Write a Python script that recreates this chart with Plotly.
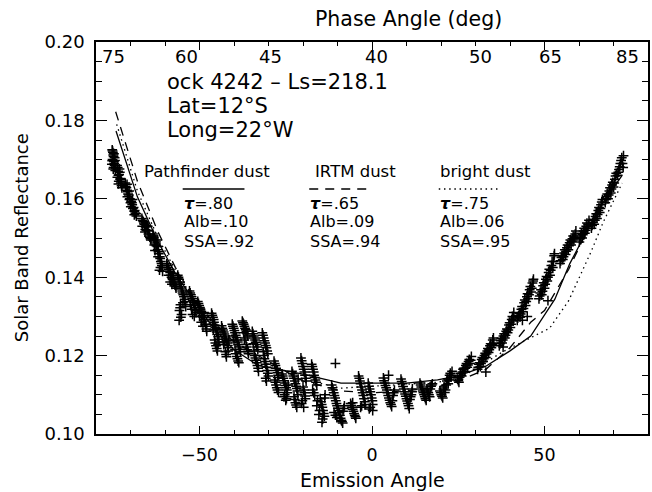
import plotly.graph_objects as go

# Observed solar-band reflectance vs emission angle (orbit 4242), grouped by limb
west_limb_x = [
    -75.3, -75.0, -75.2, -74.8, -75.4, -74.6, -74.9, -74.4, -75.1, -74.7,
    -75.2, -74.9, -75.3, -74.6, -75.0, -74.5, -74.8,
    -73.9, -73.6, -73.3, -73.8, -73.0, -72.8, -73.4, -72.6, -73.2,
    -73.7, -73.5, -73.1, -72.9, -72.7, -73.5, -72.5,
    -71.5, -71.2, -70.8, -70.5, -70.2, -69.8, -69.5, -69.1, -68.8, -68.4, -70.9, -69.9, -71.0, -68.9,
    -71.4, -71.0, -70.7, -70.3, -70.0, -69.6, -69.3, -68.9, -68.6, -70.4, -69.4, -68.3,
    -66.7, -66.3, -66.0, -65.6, -65.2, -64.8, -64.4, -64.1, -65.8, -65.0,
    -66.5, -66.1, -65.7, -65.4, -64.9, -64.6, -64.2, -66.6,
    -63.5, -63.2, -62.8, -62.5, -62.1, -61.8, -61.4, -61.0, -60.8, -62.9, -61.6, -62.3,
    -63.3, -63.0, -62.6, -62.2, -61.9, -61.5, -61.2, -60.9, -63.1, -62.0, -61.3, -60.7,
    -59.5, -59.1, -58.7, -58.3, -57.9, -57.5, -57.1, -56.8, -58.5, -57.6,
    -59.3, -58.9, -58.5, -58.1, -57.7, -57.3, -56.9, -59.0, -58.0,
    -56.3, -55.9, -55.6, -55.2, -54.9, -54.5, -54.2, -55.5, -55.8, -55.4, -54.0,
    -56.1, -55.7, -55.3, -55.0, -54.7, -54.3, -55.6, -55.2, -54.8, -55.9,
    -52.9, -52.5, -52.1, -51.7, -51.3, -51.0, -52.3, -51.5,
    -52.7, -52.3, -51.9, -51.5, -51.2, -52.0, -52.6,
    -50.5, -50.1, -49.7, -49.3, -48.9, -48.5, -48.1, -47.9, -49.5, -48.7,
    -50.3, -49.9, -49.5, -49.1, -48.7, -48.3, -48.0, -50.0, -49.0,
    -46.5, -46.1, -45.8, -45.4, -45.0, -44.6, -44.4, -45.6, -45.2, -44.8, -46.0,
    -46.3, -45.9, -45.6, -45.2, -44.8, -44.5, -45.4, -45.0, -46.2, -44.6,
    -43.6, -43.2, -42.8, -42.4, -42.0, -41.6, -43.0, -42.5, -42.2, -41.5,
    -43.4, -43.0, -42.6, -42.2, -41.8, -42.8, -42.3, -41.7,
    -40.5, -40.1, -39.7, -39.3, -38.9, -38.5, -38.1, -39.5, -39.0, -38.6, -40.0,
    -40.3, -39.9, -39.5, -39.1, -38.7, -38.3, -39.7, -39.2, -38.8, -40.2,
    -37.6, -37.2, -36.8, -36.4, -36.0, -37.0, -36.5, -36.1, -35.8,
    -37.4, -37.0, -36.6, -36.2, -36.8, -36.3, -35.9, -37.2,
    -34.7, -34.3, -33.9, -33.5, -33.1, -34.0, -33.6, -33.2, -32.9, -34.2,
    -34.5, -34.1, -33.7, -33.3, -33.8, -33.4, -33.0, -34.4,
]
west_limb_y = [
    0.1725, 0.1712, 0.1700, 0.1695, 0.1688, 0.1705, 0.1680, 0.1672, 0.1718, 0.1690,
    0.1722, 0.1708, 0.1697, 0.1685, 0.1676, 0.1698, 0.1715,
    0.1685, 0.1670, 0.1662, 0.1655, 0.1650, 0.1640, 0.1645, 0.1633, 0.1676,
    0.1680, 0.1660, 0.1668, 0.1652, 0.1645, 0.1638, 0.1628,
    0.1640, 0.1628, 0.1618, 0.1610, 0.1600, 0.1594, 0.1585, 0.1578, 0.1570, 0.1562, 0.1605, 0.1580, 0.1637, 0.1559,
    0.1632, 0.1622, 0.1612, 0.1598, 0.1590, 0.1590, 0.1575, 0.1568, 0.1564, 0.1620, 0.1598, 0.1556,
    0.1550, 0.1542, 0.1535, 0.1528, 0.1520, 0.1510, 0.1502, 0.1495, 0.1515, 0.1530,
    0.1545, 0.1538, 0.1522, 0.1532, 0.1518, 0.1505, 0.1498, 0.1530,
    0.1510, 0.1500, 0.1490, 0.1480, 0.1470, 0.1460, 0.1448, 0.1435, 0.1425, 0.1468, 0.1418, 0.1495,
    0.1505, 0.1495, 0.1485, 0.1478, 0.1465, 0.1452, 0.1440, 0.1430, 0.1482, 0.1452, 0.1425, 0.1415,
    0.1434, 0.1425, 0.1415, 0.1405, 0.1398, 0.1390, 0.1380, 0.1372, 0.1388, 0.1410,
    0.1430, 0.1420, 0.1412, 0.1400, 0.1395, 0.1385, 0.1376, 0.1405, 0.1382,
    0.1405, 0.1395, 0.1382, 0.1370, 0.1360, 0.1350, 0.1338, 0.1330, 0.1315, 0.1298, 0.1325,
    0.1400, 0.1388, 0.1375, 0.1365, 0.1355, 0.1344, 0.1322, 0.1305, 0.1335, 0.1290,
    0.1365, 0.1355, 0.1345, 0.1335, 0.1322, 0.1310, 0.1318, 0.1300,
    0.1360, 0.1350, 0.1340, 0.1328, 0.1315, 0.1305, 0.1330,
    0.1338, 0.1328, 0.1318, 0.1308, 0.1298, 0.1288, 0.1275, 0.1262, 0.1285, 0.1310,
    0.1333, 0.1323, 0.1313, 0.1303, 0.1293, 0.1280, 0.1268, 0.1300, 0.1275,
    0.1308, 0.1298, 0.1285, 0.1272, 0.1260, 0.1248, 0.1235, 0.1240, 0.1225, 0.1212, 0.1265,
    0.1303, 0.1292, 0.1278, 0.1266, 0.1254, 0.1242, 0.1232, 0.1218, 0.1280, 0.1228,
    0.1276, 0.1265, 0.1255, 0.1245, 0.1232, 0.1220, 0.1228, 0.1210, 0.1197, 0.1240,
    0.1270, 0.1260, 0.1250, 0.1238, 0.1226, 0.1235, 0.1203, 0.1212,
    0.1280, 0.1270, 0.1258, 0.1246, 0.1235, 0.1222, 0.1210, 0.1205, 0.1192, 0.1182, 0.1238,
    0.1275, 0.1264, 0.1252, 0.1240, 0.1228, 0.1216, 0.1215, 0.1198, 0.1186, 0.1250,
    0.1288, 0.1280, 0.1270, 0.1262, 0.1250, 0.1240, 0.1228, 0.1215, 0.1205,
    0.1284, 0.1275, 0.1266, 0.1256, 0.1245, 0.1222, 0.1210, 0.1258,
    0.1262, 0.1250, 0.1240, 0.1228, 0.1215, 0.1200, 0.1188, 0.1175, 0.1160, 0.1212,
    0.1256, 0.1245, 0.1234, 0.1222, 0.1194, 0.1182, 0.1168, 0.1230,
]

center_x = [
    -31.8, -31.4, -31.0, -30.6, -30.2, -31.2, -30.8, -30.4, -30.0, -30.6, -31.5,
    -31.6, -31.2, -30.8, -30.4, -31.0, -30.6, -30.2, -30.8, -31.3,
    -28.4, -28.0, -27.6, -27.2, -28.2, -27.8, -27.4, -27.1,
    -28.2, -27.8, -27.4, -28.0, -27.6, -27.3,
    -26.1, -25.7, -25.3, -24.9, -24.5, -25.5, -25.0, -24.3,
    -25.9, -25.5, -25.1, -24.7, -25.3, -24.8,
    -23.2, -22.8, -22.4, -22.0, -21.6, -22.6, -22.2, -21.8, -21.4,
    -23.0, -22.6, -22.2, -21.8, -22.4, -22.0, -21.5,
    -20.6, -20.2, -19.8, -19.4, -19.1, -20.0, -19.6, -19.3, -20.4, -19.8,
    -20.4, -20.0, -19.6, -19.2, -19.8, -19.4, -20.2,
    -17.5, -17.1, -16.8, -16.4, -16.0, -17.2, -16.6, -15.0, -14.6, -14.2, -13.8, -14.5, -15.4, -16.0, -13.6,
    -17.3, -16.9, -16.6, -16.2, -16.9, -14.8, -14.4, -14.0, -15.2, -15.8, -14.3, -13.7,
    -11.7, -11.3, -10.9, -10.5, -10.1, -9.7, -9.3, -8.9, -8.5, -11.0, -10.2, -8.2, -10.6,
    -11.5, -11.1, -10.7, -10.3, -9.9, -9.5, -9.1, -8.7, -10.6, -8.4, -8.0,
    -6.2, -5.8, -5.4, -5.0, -4.7, -5.6, -6.0, -5.6, -5.2, -4.8,
    -3.9, -3.5, -3.1, -2.7, -2.3, -2.0, -3.3, -3.7, -3.3, -2.9, -2.5, -2.1, -3.0,
    -1.1, -0.7, -0.3, 0.1, -0.5, 0.2, -0.9, -0.5, -0.1, 0.2, -0.8,
    3.3, 3.7, 4.1, 4.5, 4.9, 5.3, 5.7, 6.1, 6.5, 4.8,
    3.5, 3.9, 4.3, 4.7, 5.1, 5.5, 5.9, 6.3,
    8.4, 8.8, 9.2, 9.6, 10.0, 10.4, 10.8, 11.2, 11.6,
    8.6, 9.0, 9.4, 9.8, 10.2, 10.6, 11.0, 11.4, 11.7,
    13.9, 14.3, 14.7, 15.1, 15.5, 15.9, 16.3, 16.7, 17.1, 17.5,
    14.1, 14.5, 14.9, 15.3, 15.7, 16.1, 16.5, 16.9, 17.3,
    19.7, 20.1, 20.5, 20.9, 21.3, 21.7, 22.1, 22.5, 22.9, 23.2,
    19.9, 20.3, 20.7, 21.1, 21.5, 21.9, 22.3, 22.7, 23.0,
    24.8, 25.2, 25.6, 26.0, 26.4, 26.8, 27.2, 27.6, 28.0, 28.4, 28.8,
    25.0, 25.4, 25.8, 26.2, 26.6, 27.0, 27.4, 27.8, 28.2, 28.6,
]
center_y = [
    0.1258, 0.1245, 0.1232, 0.1220, 0.1205, 0.1192, 0.1178, 0.1162, 0.1148, 0.1135, 0.1210,
    0.1252, 0.1238, 0.1226, 0.1212, 0.1185, 0.1170, 0.1155, 0.1142, 0.1200,
    0.1186, 0.1175, 0.1162, 0.1150, 0.1138, 0.1125, 0.1112, 0.1106,
    0.1180, 0.1168, 0.1156, 0.1132, 0.1118, 0.1144,
    0.1153, 0.1142, 0.1130, 0.1118, 0.1105, 0.1095, 0.1086, 0.1125,
    0.1148, 0.1136, 0.1124, 0.1112, 0.1100, 0.1090,
    0.1160, 0.1148, 0.1135, 0.1122, 0.1110, 0.1095, 0.1080, 0.1068, 0.1140,
    0.1154, 0.1142, 0.1128, 0.1116, 0.1088, 0.1074, 0.1100,
    0.1194, 0.1180, 0.1165, 0.1150, 0.1135, 0.1120, 0.1105, 0.1090, 0.1078, 0.1068,
    0.1187, 0.1172, 0.1158, 0.1142, 0.1112, 0.1097, 0.1085,
    0.1178, 0.1165, 0.1150, 0.1138, 0.1125, 0.1112, 0.1098, 0.1090, 0.1075, 0.1060, 0.1045, 0.1030, 0.1050, 0.1072, 0.1100,
    0.1172, 0.1158, 0.1144, 0.1132, 0.1105, 0.1082, 0.1068, 0.1052, 0.1060, 0.1085, 0.1038, 0.1092,
    0.1125, 0.1112, 0.1098, 0.1085, 0.1072, 0.1060, 0.1048, 0.1035, 0.1028, 0.1055, 0.1042, 0.1065, 0.1180,
    0.1118, 0.1105, 0.1092, 0.1078, 0.1066, 0.1054, 0.1040, 0.1032, 0.1048, 0.1058, 0.1072,
    0.1078, 0.1068, 0.1058, 0.1048, 0.1040, 0.1080, 0.1073, 0.1063, 0.1052, 0.1044,
    0.1148, 0.1135, 0.1120, 0.1105, 0.1090, 0.1075, 0.1068, 0.1142, 0.1128, 0.1112, 0.1098, 0.1082, 0.1072,
    0.1130, 0.1115, 0.1100, 0.1085, 0.1068, 0.1060, 0.1122, 0.1108, 0.1092, 0.1075, 0.1064,
    0.1143, 0.1130, 0.1118, 0.1105, 0.1092, 0.1080, 0.1070, 0.1098, 0.1112, 0.1150,
    0.1136, 0.1124, 0.1112, 0.1098, 0.1086, 0.1075, 0.1085, 0.1105,
    0.1140, 0.1128, 0.1115, 0.1102, 0.1090, 0.1078, 0.1065, 0.1095, 0.1108,
    0.1134, 0.1121, 0.1108, 0.1096, 0.1084, 0.1072, 0.1088, 0.1100, 0.1115,
    0.1130, 0.1120, 0.1110, 0.1100, 0.1090, 0.1115, 0.1105, 0.1095, 0.1122, 0.1128,
    0.1125, 0.1115, 0.1105, 0.1095, 0.1086, 0.1110, 0.1100, 0.1115, 0.1125,
    0.1110, 0.1100, 0.1092, 0.1120, 0.1112, 0.1135, 0.1128, 0.1150, 0.1145, 0.1160,
    0.1105, 0.1096, 0.1115, 0.1106, 0.1125, 0.1140, 0.1138, 0.1155, 0.1150,
    0.1140, 0.1132, 0.1155, 0.1148, 0.1165, 0.1160, 0.1175, 0.1170, 0.1185, 0.1180, 0.1198,
    0.1136, 0.1145, 0.1150, 0.1158, 0.1168, 0.1168, 0.1180, 0.1176, 0.1190, 0.1188,
]

east_limb_x = [
    30.6, 31.0, 31.4, 31.8, 32.2, 32.6, 33.0, 33.4, 33.8, 34.2, 34.6, 35.0, 35.3, 33.0,
    30.8, 31.2, 31.6, 32.0, 32.4, 32.8, 33.2, 33.6, 34.0, 34.4, 34.8, 35.2,
    36.9, 37.3, 37.7, 38.1, 38.5, 38.9, 39.3, 39.7, 40.1, 40.5, 40.9, 41.1,
    37.1, 37.5, 37.9, 38.3, 38.7, 39.1, 39.5, 39.9, 40.3, 40.7, 41.0, 38.0,
    42.1, 42.5, 42.9, 43.3, 43.7, 44.1, 44.5, 44.9, 45.3, 45.7, 46.1, 46.5, 46.8, 45.0,
    42.3, 42.7, 43.1, 43.5, 43.9, 44.3, 44.7, 45.1, 45.5, 45.9, 46.3, 46.7, 43.6,
    48.4, 48.8, 49.2, 49.6, 50.0, 50.4, 50.8, 51.2, 51.6, 52.0, 52.4, 52.8, 51.0,
    48.6, 49.0, 49.4, 49.8, 50.2, 50.6, 51.0, 51.4, 51.8, 52.2, 52.6, 52.9,
    54.5, 54.9, 55.3, 55.7, 56.1, 56.5, 56.9, 57.3, 57.7, 58.1, 58.5, 58.9,
    54.7, 55.1, 55.5, 55.9, 56.3, 56.7, 57.1, 57.5, 57.9, 58.3, 58.7, 59.1,
    60.1, 60.5, 60.9, 61.3, 61.7, 62.1, 62.5, 62.9,
    60.3, 60.7, 61.1, 61.5, 61.9, 62.3, 62.7,
    63.6, 64.0, 64.4, 64.8, 65.2, 65.6, 66.0, 66.4, 66.8,
    63.8, 64.2, 64.6, 65.0, 65.4, 65.8, 66.2, 66.6,
    67.6, 68.0, 68.4, 68.8, 69.2, 69.6, 70.0, 70.4, 70.8,
    67.8, 68.2, 68.6, 69.0, 69.4, 69.8, 70.2, 70.6,
    71.2, 71.6, 72.0, 72.4, 72.8, 71.4, 71.8, 72.2, 72.6, 72.9,
]
east_limb_y = [
    0.1165, 0.1178, 0.1172, 0.1190, 0.1185, 0.1200, 0.1195, 0.1212, 0.1208, 0.1225, 0.1220, 0.1240, 0.1232, 0.1158,
    0.1170, 0.1182, 0.1180, 0.1195, 0.1192, 0.1206, 0.1204, 0.1218, 0.1215, 0.1230, 0.1228, 0.1245,
    0.1225, 0.1238, 0.1232, 0.1250, 0.1245, 0.1262, 0.1258, 0.1278, 0.1272, 0.1292, 0.1288, 0.1310,
    0.1230, 0.1244, 0.1240, 0.1256, 0.1252, 0.1268, 0.1265, 0.1284, 0.1280, 0.1300, 0.1296, 0.1222,
    0.1290, 0.1302, 0.1298, 0.1318, 0.1312, 0.1335, 0.1328, 0.1350, 0.1345, 0.1368, 0.1362, 0.1385, 0.1395, 0.1300,
    0.1296, 0.1308, 0.1306, 0.1325, 0.1320, 0.1342, 0.1338, 0.1358, 0.1355, 0.1376, 0.1372, 0.1390, 0.1290,
    0.1345, 0.1360, 0.1355, 0.1378, 0.1372, 0.1395, 0.1390, 0.1412, 0.1405, 0.1430, 0.1425, 0.1455, 0.1340,
    0.1352, 0.1368, 0.1364, 0.1386, 0.1382, 0.1402, 0.1400, 0.1420, 0.1418, 0.1440, 0.1440, 0.1460,
    0.1435, 0.1450, 0.1445, 0.1462, 0.1458, 0.1475, 0.1470, 0.1488, 0.1482, 0.1498, 0.1495, 0.1510,
    0.1442, 0.1455, 0.1452, 0.1470, 0.1466, 0.1482, 0.1480, 0.1495, 0.1492, 0.1505, 0.1502, 0.1518,
    0.1490, 0.1505, 0.1500, 0.1518, 0.1512, 0.1530, 0.1525, 0.1545,
    0.1498, 0.1512, 0.1508, 0.1525, 0.1520, 0.1538, 0.1535,
    0.1525, 0.1540, 0.1535, 0.1555, 0.1550, 0.1570, 0.1565, 0.1585, 0.1598,
    0.1532, 0.1548, 0.1545, 0.1562, 0.1560, 0.1578, 0.1575, 0.1592,
    0.1590, 0.1605, 0.1600, 0.1620, 0.1615, 0.1635, 0.1630, 0.1650, 0.1665,
    0.1598, 0.1612, 0.1610, 0.1628, 0.1625, 0.1642, 0.1640, 0.1658,
    0.1660, 0.1675, 0.1690, 0.1705, 0.1680, 0.1668, 0.1682, 0.1698, 0.1690, 0.1710,
]

# Radiative-transfer model curves for three dust models
pathfinder_x = [-74.2, -68, -62, -57, -52, -46, -40, -33, -20, -9, 10, 19, 25, 33, 40, 46, 53, 57.3, 63, 67, 72.5]
pathfinder_y = [0.1773, 0.1605, 0.1490, 0.1410, 0.1345, 0.1270, 0.1215, 0.1175, 0.1153, 0.1130, 0.1130,
                0.1138, 0.1148, 0.1173, 0.1212, 0.1250, 0.1344, 0.1434, 0.1530, 0.1590, 0.1660]
irtm_x = [-74.3, -68, -62, -57, -52, -46, -40, -33, -20, -9, 0, 10, 19, 25, 33, 40, 46, 50, 57, 63, 67, 72.5]
irtm_y = [0.1822, 0.1645, 0.1515, 0.1425, 0.1350, 0.1285, 0.1235, 0.1200, 0.1135, 0.1110, 0.1105, 0.1110,
          0.1120, 0.1135, 0.1165, 0.1220, 0.1285, 0.1315, 0.1420, 0.1530, 0.1600, 0.1700]
bright_x = [-74, -68, -62, -57, -52, -46, -40, -33, -20, -9, 10, 19, 25, 38, 51.5, 57, 63.6, 67, 72.5]
bright_y = [0.1790, 0.1620, 0.1500, 0.1418, 0.1348, 0.1280, 0.1228, 0.1190, 0.1140, 0.1117, 0.1127,
            0.1132, 0.1140, 0.1210, 0.1270, 0.1340, 0.1467, 0.1540, 0.1640]

# Phase-angle labels along the top axis, placed at emission angle
phase_labels = ["75", "60", "45", "40", "50", "65", "85"]
phase_label_x = [-74.8, -53.8, -29.4, 1.2, 31.4, 51.8, 74.0]

W, H = 652, 492
ML, MR, MT, MB = 96, 2, 42, 58
XR = [-80, 80]
YR = [0.10, 0.20]
FONT = "DejaVu Sans"
PW, PH = W - ML - MR, H - MT - MB


def pp_x(px):
    return (px - ML) / PW


def pp_y(py):
    return (H - MB - py) / PH


fig = go.Figure()

obs_x = west_limb_x + center_x + east_limb_x
obs_y = west_limb_y + center_y + east_limb_y
fig.add_trace(go.Scatter(
    x=obs_x, y=obs_y, mode="markers",
    marker=dict(symbol="cross-thin", size=7, line=dict(width=1.5, color="black"), color="black"),
    showlegend=False, hoverinfo="skip",
))
line_style = dict(color="black", width=1.3)
fig.add_trace(go.Scatter(x=pathfinder_x, y=pathfinder_y, mode="lines",
                         line=dict(**line_style), showlegend=False))
fig.add_trace(go.Scatter(x=irtm_x, y=irtm_y, mode="lines",
                         line=dict(**line_style, dash="9px,7px"), showlegend=False))
fig.add_trace(go.Scatter(x=bright_x, y=bright_y, mode="lines",
                         line=dict(**line_style, dash="1.5px,3.7px"), showlegend=False))

annotations = []


def text(x, y, s, size, xanchor="left", **kw):
    annotations.append(dict(x=x, y=y, xref="paper", yref="paper", text=s, showarrow=False,
                            xanchor=xanchor, yanchor="middle", borderpad=0,
                            font=dict(family=FONT, size=size, color="black"), **kw))


# top axis labels (phase angle)
for lab, xv in zip(phase_labels, phase_label_x):
    annotations.append(dict(x=xv, y=pp_y(57), xref="x", yref="paper", text=lab, showarrow=False,
                            xanchor="center", yanchor="middle", borderpad=0,
                            font=dict(family=FONT, size=18, color="black")))

# axis titles
text(pp_x(410), pp_y(19), "Phase Angle (deg)", 20.5, xanchor="center")
text(pp_x(374), pp_y(480), "Emission Angle", 19, xanchor="center")
text(pp_x(21), 0.5, "Solar Band Reflectance", 18, xanchor="center", textangle=-90)

# observation heading
text(pp_x(166), pp_y(82), "ock 4242 \u2013 Ls=218.1", 21)
text(pp_x(166), pp_y(106), "Lat=12\u00b0S", 21)
text(pp_x(166), pp_y(130), "Long=22\u00b0W", 21)

# model key
key = [
    ("Pathfinder dust", 143, 183, ".80", ".10", ".92", None),
    ("IRTM dust", 315, 310, ".65", ".09", ".94", "9px,7px"),
    ("bright dust", 440, 440, ".75", ".06", ".95", "1.5px,3.7px"),
]
shapes = []
for name, nx, vx, tau, alb, ssa, dash in key:
    text(pp_x(nx), pp_y(171), name, 16.5)
    text(pp_x(vx), pp_y(203), "<b><i>\u03c4</i></b>=" + tau, 16)
    text(pp_x(vx), pp_y(222), "Alb=" + alb, 16)
    text(pp_x(vx), pp_y(241), "SSA=" + ssa, 16)
    ln = dict(color="black", width=1.3)
    if dash:
        ln["dash"] = dash
    shapes.append(dict(type="line", xref="paper", yref="paper", x0=pp_x(vx), x1=pp_x(vx + 62),
                       y0=pp_y(189), y1=pp_y(189), line=ln))

axis_common = dict(showline=True, linecolor="black", linewidth=1.5, mirror="allticks",
                   ticks="inside", tickcolor="black", tickwidth=1.2, showgrid=False, zeroline=False)
fig.update_xaxes(range=XR, tickvals=[-50, 0, 50], ticklen=8,
                 minor=dict(dtick=10, ticks="inside", ticklen=4, tickcolor="black", tickwidth=1.2,
                            showgrid=False),
                 tickfont=dict(family=FONT, size=17.5, color="black"),
                 ticklabelstandoff=4, **axis_common)
fig.update_yaxes(range=YR, dtick=0.02, tickformat=".2f", ticklen=11,
                 minor=dict(dtick=0.005, ticks="inside", ticklen=6, tickcolor="black", tickwidth=1.2,
                            showgrid=False),
                 tickfont=dict(family=FONT, size=18, color="black"),
                 ticklabelstandoff=6, **axis_common)

fig.update_layout(width=W, height=H, autosize=False,
                  margin=dict(l=ML, r=MR, t=MT, b=MB, pad=0),
                  paper_bgcolor="white", plot_bgcolor="white",
                  annotations=annotations, shapes=shapes, showlegend=False)

fig.write_html("out.html")
